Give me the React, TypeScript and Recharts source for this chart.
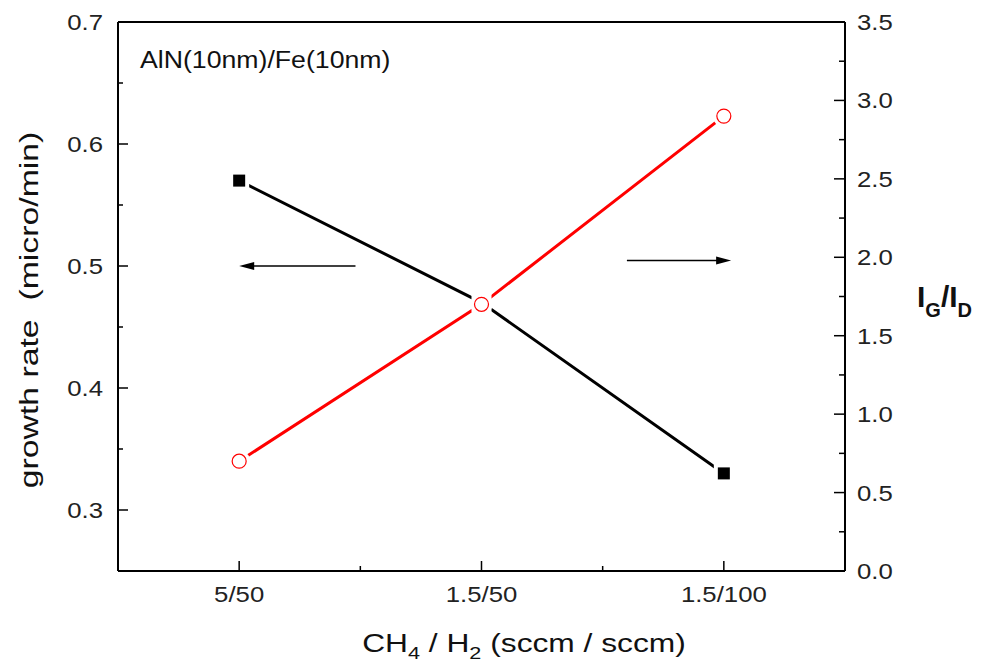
import { LineChart, Line, XAxis, YAxis, ReferenceLine, Label } from 'recharts';

const categories = ['5/50', '1.5/50', '1.5/100'];
const growthRate = [0.57, 0.47, 0.33];
const ratioIgId = [0.7, 1.7, 2.9];
const leftTicks = [0.25, 0.3, 0.35, 0.4, 0.45, 0.5, 0.55, 0.6, 0.65, 0.7];
const rightTicks = [0, 0.25, 0.5, 0.75, 1, 1.25, 1.5, 1.75, 2, 2.25, 2.5, 2.75, 3, 3.25, 3.5];
const xTicks = [1, 1.5, 2, 2.5, 3];

const data = categories.map((c, i) => ({ x: i + 1, label: c, rate: growthRate[i], ratio: ratioIgId[i] }));

const W = 974;
const H = 661;
const PL = 110;
const PR = 837;
const PT = 14;
const PB = 563;
const FONT = '"Liberation Sans", Arial, sans-serif';
const SX = 1.17;

const LeftTick = (props: any) => {
  const { y, payload } = props;
  const v = payload.value;
  const major = Math.round(v * 100) % 10 === 0;
  if (v === 0.25) return <g />;
  return (
    <g>
      <line x1={PL} x2={PL + (major ? 10 : 5)} y1={y} y2={y} stroke="#000" strokeWidth={1.5} />
      {major && (
        <text transform={`translate(${PL - 15},${y + 8}) scale(${SX},1)`} textAnchor="end" fontSize={22} fontFamily={FONT} fill="#222">
          {v.toFixed(1)}
        </text>
      )}
    </g>
  );
};

const RightTick = (props: any) => {
  const { y, payload } = props;
  const v = payload.value;
  const major = Math.round(v * 100) % 50 === 0;
  return (
    <g>
      {v > 0 && v < 3.5 && <line x1={PR} x2={PR - (major ? 11 : 6)} y1={y} y2={y} stroke="#000" strokeWidth={1.5} />}
      {major && (
        <text transform={`translate(${PR + 12},${y + 8}) scale(${SX},1)`} textAnchor="start" fontSize={22} fontFamily={FONT} fill="#222">
          {v.toFixed(1)}
        </text>
      )}
    </g>
  );
};

const BottomTick = (props: any) => {
  const { x, payload } = props;
  const v = payload.value;
  const major = Number.isInteger(v);
  return (
    <g>
      <line x1={x} x2={x} y1={PB} y2={PB - (major ? 10 : 5)} stroke="#000" strokeWidth={1.5} />
      {major && (
        <text transform={`translate(${x},${PB + 31}) scale(${SX},1)`} textAnchor="middle" fontSize={22} fontFamily={FONT} fill="#222">
          {categories[v - 1]}
        </text>
      )}
    </g>
  );
};

const SquareDot = (props: any) => {
  const { cx, cy, index } = props;
  return (
    <g key={`sq-${index}`}>
      <rect x={cx - 10} y={cy - 10} width={20} height={20} fill="#fff" />
      <rect x={cx - 6} y={cy - 6} width={12} height={12} fill="#000" />
    </g>
  );
};

const CircleDot = (props: any) => {
  const { cx, cy, index } = props;
  return (
    <g key={`ci-${index}`}>
      <circle cx={cx} cy={cy} r={11} fill="#fff" />
      <circle cx={cx} cy={cy} r={7} fill="#fff" stroke="#ff0000" strokeWidth={1.2} />
    </g>
  );
};

const arrowShape = (props: any) => {
  const { x1, y1, x2, y2 } = props;
  const dir = x2 > x1 ? 1 : -1;
  return (
    <g>
      <line x1={x1} y1={y1} x2={x2 - dir * 8} y2={y2} stroke="#000" strokeWidth={1.5} />
      <polygon points={`${x2},${y2} ${x2 - dir * 15},${y2 - 4} ${x2 - dir * 15},${y2 + 4}`} fill="#000" />
    </g>
  );
};

export default function App() {
  return (
    <div style={{ width: W, height: H }}>
      <style>{'html, body { overflow: hidden; }'}</style>
      <LineChart width={W} height={H} data={data} margin={{ top: PT, right: 0, bottom: H - PB - 90, left: 0 }}>
        <XAxis
          dataKey="x"
          type="number"
          domain={[0.5, 3.5]}
          ticks={xTicks}
          height={90}
          tickLine={false}
          tick={<BottomTick />}
          axisLine={{ stroke: '#000', strokeWidth: 2 }}
        >
          <Label
            content={() => (
              <text transform={`translate(${524 - 8},${652 - 8}) scale(1.27,1)`} textAnchor="middle" fontSize={25} fontFamily={FONT} fill="#111">
                CH<tspan fontSize={17} dy={7}>4</tspan>
                <tspan dy={-7}> / H</tspan>
                <tspan fontSize={17} dy={7}>2</tspan>
                <tspan dy={-7}> (sccm / sccm)</tspan>
              </text>
            )}
          />
        </XAxis>
        <YAxis
          yAxisId="left"
          domain={[0.25, 0.7]}
          ticks={leftTicks}
          width={PL}
          tickLine={false}
          tick={<LeftTick />}
          axisLine={{ stroke: '#000', strokeWidth: 2 }}
        >
          <Label
            content={() => (
              <text
                transform={`translate(${38 - 8},${310 - 8}) rotate(-90) scale(1.3,1)`}
                textAnchor="middle"
                fontSize={26}
                fontFamily={FONT}
                fill="#111"
                style={{ whiteSpace: 'pre' }}
              >
                growth rate  (micro/min)
              </text>
            )}
          />
        </YAxis>
        <YAxis
          yAxisId="right"
          orientation="right"
          domain={[0, 3.5]}
          ticks={rightTicks}
          width={W - PR}
          tickLine={false}
          tick={<RightTick />}
          axisLine={{ stroke: '#000', strokeWidth: 2 }}
        >
          <Label
            content={() => (
              <text transform={`translate(${917 - 8},${307 - 8})`} fontSize={30} fontWeight="bold" fontFamily={FONT} fill="#111">
                I<tspan fontSize={20} dy={10}>G</tspan>
                <tspan dy={-10}>/I</tspan>
                <tspan fontSize={20} dy={10}>D</tspan>
              </text>
            )}
          />
        </YAxis>
        <ReferenceLine yAxisId="left" y={0.7} stroke="#000" strokeWidth={2}>
          <Label
            content={() => (
              <text transform={`translate(${140 - 8},${68 - 8}) scale(1.16,1)`} fontSize={23} fontFamily={FONT} fill="#111">
                AlN(10nm)/Fe(10nm)
              </text>
            )}
          />
        </ReferenceLine>
        <ReferenceLine
          yAxisId="left"
          segment={[{ x: 1.48, y: 0.5 }, { x: 1.0, y: 0.5 }]}
          shape={arrowShape}
        />
        <ReferenceLine
          yAxisId="right"
          segment={[{ x: 2.6, y: 1.98 }, { x: 3.03, y: 1.98 }]}
          shape={arrowShape}
        />
        <Line
          yAxisId="left"
          dataKey="rate"
          stroke="#000"
          strokeWidth={3}
          dot={<SquareDot />}
          activeDot={false}
          isAnimationActive={false}
        />
        <Line
          yAxisId="right"
          dataKey="ratio"
          stroke="#ff0000"
          strokeWidth={3}
          dot={<CircleDot />}
          activeDot={false}
          isAnimationActive={false}
        />
      </LineChart>
    </div>
  );
}
